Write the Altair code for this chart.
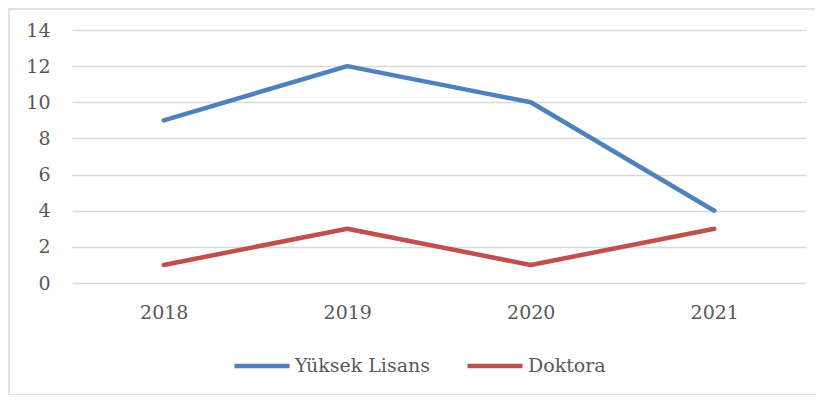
import altair as alt
import pandas as pd

years = ["2018", "2019", "2020", "2021"]
yuksek_lisans = [9, 12, 10, 4]
doktora = [1, 3, 1, 3]
series_names = ["Yüksek Lisans", "Doktora"]
colors = ["#4F81BD", "#C0504D"]

rows = []
for y, v in zip(years, yuksek_lisans):
    rows.append({"Yıl": y, "Değer": v, "Seri": series_names[0]})
for y, v in zip(years, doktora):
    rows.append({"Yıl": y, "Değer": v, "Seri": series_names[1]})
df = pd.DataFrame(rows)

FONT = "DejaVu Serif"
TXT = "#595959"
FS = 19

lines = alt.Chart(df).mark_line(strokeWidth=4.5, strokeCap="round", strokeJoin="round").encode(
    x=alt.X("Yıl:N", sort=years, title=None,
            scale=alt.Scale(type="point", padding=0.5),
            axis=alt.Axis(domain=False, ticks=False, grid=False, labelAngle=0,
                          labelFont=FONT, labelFontSize=FS, labelColor=TXT, labelPadding=20)),
    y=alt.Y("Değer:Q", title=None,
            scale=alt.Scale(domain=[0, 14], nice=False),
            axis=alt.Axis(values=list(range(0, 15, 2)), domain=False, ticks=False,
                          gridColor="#D9D9D9", gridWidth=1.3,
                          labelFont=FONT, labelFontSize=FS, labelColor=TXT, labelPadding=22)),
    color=alt.Color("Seri:N", sort=series_names,
                    scale=alt.Scale(domain=series_names, range=colors),
                    legend=alt.Legend(title=None, orient="none", direction="horizontal",
                                      legendX=160, legendY=306, padding=0,
                                      symbolType="stroke", symbolSize=3025, symbolStrokeWidth=4.5,
                                      labelFont=FONT, labelFontSize=FS, labelColor=TXT,
                                      labelOffset=3, columnPadding=28)),
)

border = alt.Chart(alt.Data(values=[{}])).mark_rect(
    fill=None, stroke="#D9D9D9", strokeWidth=1.5, clip=False
).encode(
    x=alt.value(-63), x2=alt.value(746), y=alt.value(-21), y2=alt.value(365)
)

chart = alt.layer(border, lines).properties(
    width=734, height=253,
    autosize=alt.AutoSizeParams(type="none"),
    padding={"left": 64, "top": 22, "right": 9, "bottom": 112},
).configure_view(stroke=None)

chart.save("out.html", embed_options={"renderer": "svg", "actions": False})
